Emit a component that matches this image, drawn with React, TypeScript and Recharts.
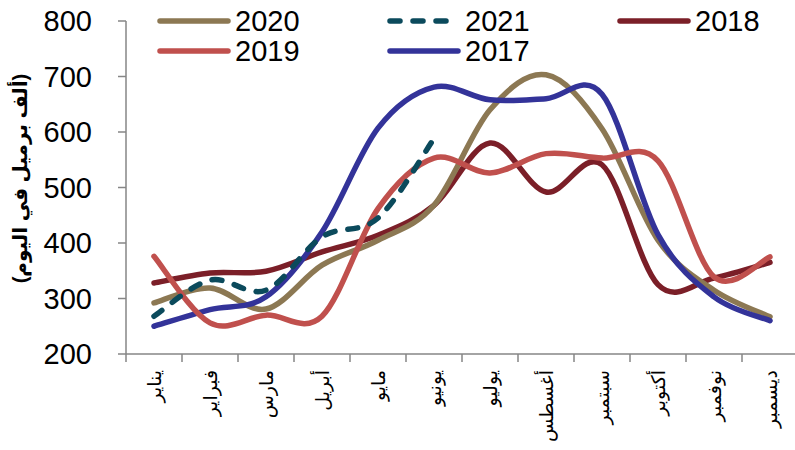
import React from "react";
import { LineChart, Line, XAxis, YAxis } from "recharts";

const months = [
  "يناير",
  "فبراير",
  "مارس",
  "أبريل",
  "مايو",
  "يونيو",
  "يوليو",
  "أغسطس",
  "سبتمبر",
  "أكتوبر",
  "نوفمبر",
  "ديسمبر",
];

const y2017 = [250, 280, 303, 420, 607, 681, 658, 660, 668, 415, 303, 260];
const y2018 = [328, 346, 349, 384, 414, 468, 580, 492, 541, 325, 337, 365];
const y2019 = [376, 256, 270, 268, 462, 553, 526, 561, 553, 548, 339, 375];
const y2020 = [292, 319, 281, 360, 405, 468, 640, 703, 606, 405, 315, 267];
const y2021 = [268, 333, 315, 411, 445, 588, null, null, null, null, null, null];

const yTicks = [200, 300, 400, 500, 600, 700, 800];

const yTitle = "(ألف برميل في اليوم)";

const COLORS = {
  y2017: "#333399",
  y2018: "#7b1f28",
  y2019: "#c0504d",
  y2020: "#8c7853",
  y2021: "#0b4a5c",
};

// legend is laid out row by row, three columns
const legendItems = [
  { key: "y2020", label: "2020", dashed: false },
  { key: "y2021", label: "2021", dashed: true },
  { key: "y2018", label: "2018", dashed: false },
  { key: "y2019", label: "2019", dashed: false },
  { key: "y2017", label: "2017", dashed: false },
];

const data = months.map((m, i) => ({
  month: m,
  y2017: y2017[i],
  y2018: y2018[i],
  y2019: y2019[i],
  y2020: y2020[i],
  y2021: y2021[i],
}));

const AXIS = "#868686";
const FONT = "'Liberation Sans', Arial, 'DejaVu Sans', sans-serif";

// Catmull-Rom style smoothing, close to the spreadsheet "smoothed line"
function smoothCurve(context: any) {
  let pts: number[][] = [];
  return {
    areaStart() {},
    areaEnd() {},
    lineStart() {
      pts = [];
    },
    point(x: number, y: number) {
      pts.push([+x, +y]);
    },
    lineEnd() {
      const n = pts.length;
      if (!n) return;
      context.moveTo(pts[0][0], pts[0][1]);
      if (n === 1) {
        context.lineTo(pts[0][0], pts[0][1]);
        return;
      }
      for (let i = 0; i < n - 1; i++) {
        const p0 = pts[Math.max(i - 1, 0)];
        const p1 = pts[i];
        const p2 = pts[i + 1];
        const p3 = pts[Math.min(i + 2, n - 1)];
        const c1x = p1[0] + (p2[0] - p0[0]) / 6;
        const c1y = p1[1] + (p2[1] - p0[1]) / 6;
        const c2x = p2[0] - (p3[0] - p1[0]) / 6;
        const c2y = p2[1] - (p3[1] - p1[1]) / 6;
        context.bezierCurveTo(c1x, c1y, c2x, c2y, p2[0], p2[1]);
      }
    },
  };
}

const TICK_SIZE = 8;
const TICK_MARGIN = 8;

function MonthTick(props: any) {
  const { x, y, payload, index, visibleTicksCount } = props;
  const off = payload.offset || 0;
  const axisY = y - TICK_SIZE - TICK_MARGIN;
  const last = index === visibleTicksCount - 1;
  return (
    <g>
      <line x1={x - off} x2={x - off} y1={axisY} y2={axisY + TICK_SIZE} stroke={AXIS} strokeWidth={1.5} />
      {last && (
        <line x1={x + off} x2={x + off} y1={axisY} y2={axisY + TICK_SIZE} stroke={AXIS} strokeWidth={1.5} />
      )}
      <text
        transform={`translate(${x},${y}) rotate(-90)`}
        textAnchor="end"
        dominantBaseline="central"
        fontSize={19}
        fontFamily={FONT}
        fill="#000"
      >
        {payload.value}
      </text>
    </g>
  );
}

function YTitle(props: any) {
  const { viewBox } = props;
  const cx = viewBox.x + 20;
  const cy = viewBox.y + viewBox.height / 2 - 9;
  return (
    <text
      transform={`translate(${cx},${cy}) rotate(-90)`}
      textAnchor="middle"
      dominantBaseline="central"
      fontSize={20}
      fontWeight="bold"
      fontFamily={FONT}
      fill="#000"
    >
      {yTitle}
    </text>
  );
}

function LegendBox() {
  const colX = [157, 387, 617];
  const rowY = [21, 51];
  return (
    <div style={{ position: "absolute", left: 0, top: 0, width: 795, height: 70, pointerEvents: "none" }}>
      {legendItems.map((it, i) => {
        const col = i % 3;
        const row = Math.floor(i / 3);
        const color = (COLORS as any)[it.key];
        return (
          <div
            key={it.key}
            style={{
              position: "absolute",
              left: colX[col],
              top: rowY[row] - 17,
              height: 34,
              display: "flex",
              alignItems: "center",
            }}
          >
            <svg width={74} height={10} style={{ display: "block" }}>
              <line
                x1={3}
                x2={71}
                y1={5}
                y2={5}
                stroke={color}
                strokeWidth={5.5}
                strokeLinecap="round"
                strokeDasharray={it.dashed ? "10 13" : undefined}
              />
            </svg>
            <span style={{ fontFamily: FONT, fontSize: 29, color: "#000", marginLeft: 4, lineHeight: "34px" }}>
              {it.label}
            </span>
          </div>
        );
      })}
    </div>
  );
}

export default function App() {
  const lineProps = {
    type: smoothCurve as any,
    dot: false,
    activeDot: false,
    strokeWidth: 5.5,
    isAnimationActive: false,
    strokeLinecap: "round" as const,
  };
  return (
    <div style={{ position: "absolute", left: 0, top: 0, width: 795, height: 450, overflow: "hidden", background: "#fff" }}>
      <LineChart width={798} height={450} data={data} margin={{ top: 21, right: 0, bottom: 0, left: 0 }}>
        <XAxis
          dataKey="month"
          scale="band"
          interval={0}
          height={96}
          axisLine={{ stroke: AXIS, strokeWidth: 1.5 }}
          tickLine={false}
          tickSize={TICK_SIZE}
          tickMargin={TICK_MARGIN}
          tick={<MonthTick />}
        />
        <YAxis
          width={126}
          domain={[200, 800]}
          ticks={yTicks}
          interval={0}
          axisLine={{ stroke: AXIS, strokeWidth: 1.5 }}
          tickLine={{ stroke: AXIS, strokeWidth: 1.5 }}
          tickSize={TICK_SIZE}
          tickMargin={26}
          tick={{ fill: "#000", fontSize: 29, fontFamily: FONT }}
          label={<YTitle />}
        />
        <Line dataKey="y2018" name="2018" stroke={COLORS.y2018} {...lineProps} />
        <Line dataKey="y2020" name="2020" stroke={COLORS.y2020} {...lineProps} />
        <Line dataKey="y2017" name="2017" stroke={COLORS.y2017} {...lineProps} />
        <Line dataKey="y2019" name="2019" stroke={COLORS.y2019} {...lineProps} />
        <Line
          dataKey="y2021"
          name="2021"
          stroke={COLORS.y2021}
          {...lineProps}
          strokeLinecap="round"
          strokeDasharray="10 13"
        />
      </LineChart>
      <LegendBox />
    </div>
  );
}
